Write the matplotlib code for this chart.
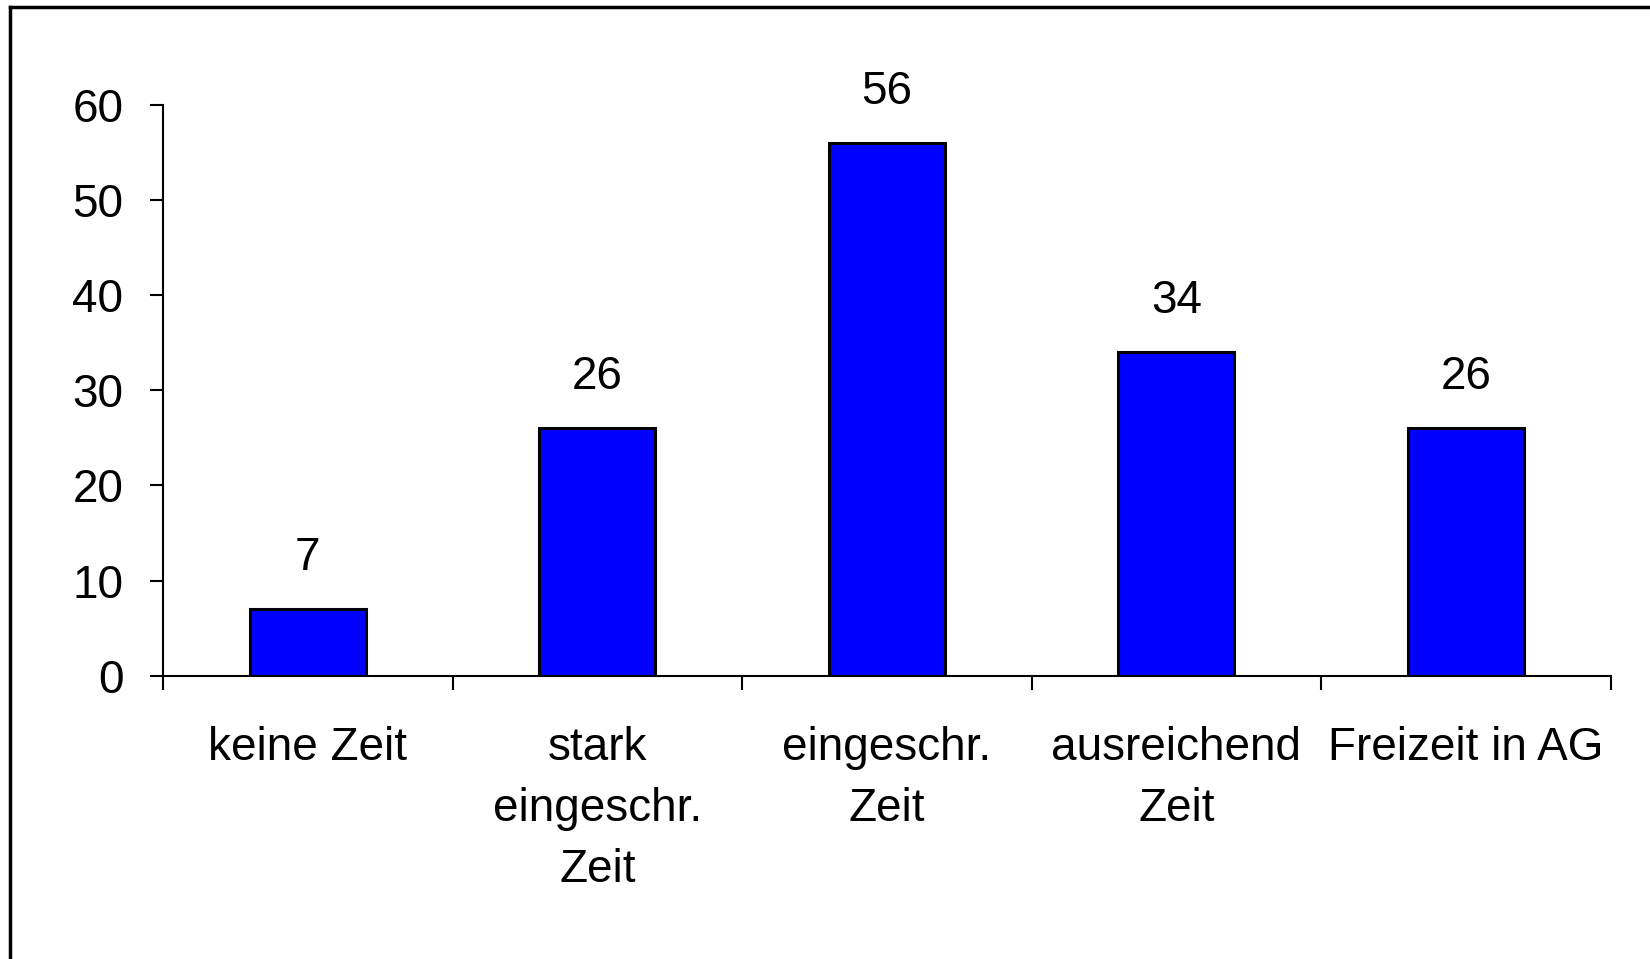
import matplotlib
matplotlib.use("Agg")
import matplotlib.pyplot as plt
from matplotlib.lines import Line2D

categories = ["keine Zeit", "stark\neingeschr.\nZeit", "eingeschr.\nZeit",
              "ausreichend\nZeit", "Freizeit in AG"]
values = [7, 26, 56, 34, 26]
yticks = [0, 10, 20, 30, 40, 50, 60]

plt.rcParams['font.family'] = ['Liberation Sans', 'DejaVu Sans']

fig = plt.figure(figsize=(16.5, 9.59), dpi=100)
ax = fig.add_axes([163/1650, 1 - 675.7/959, (1610.7 - 163)/1650, (675.7 - 105)/959])

x = range(len(values))
bars = ax.bar(x, values, width=0.4, color='#0000ff', edgecolor='black', linewidth=2.2)

for b, v in zip(bars, values):
    ax.annotate(str(v), (b.get_x() + b.get_width()/2, v), xytext=(0, 21),
                textcoords='offset points', ha='center', va='bottom', fontsize=33)

ax.set_xlim(-0.5, len(values) - 0.5)
ax.set_ylim(0, 60)
ax.set_yticks(yticks)
ax.set_yticklabels([str(t) for t in yticks], fontsize=33)
ax.tick_params(axis='y', length=9.5, width=1.5, pad=19)

# category separators as ticks, labels at the centers
ax.set_xticks([i - 0.5 for i in range(len(values) + 1)])
ax.set_xticklabels([])
ax.set_xticks(list(x), minor=True)
ax.set_xticklabels(categories, minor=True, fontsize=33, linespacing=1.5)
ax.tick_params(axis='x', which='major', length=10, width=1.5)
ax.tick_params(axis='x', which='minor', length=0, pad=36)

for s in ['top', 'right']:
    ax.spines[s].set_visible(False)
for s in ['left', 'bottom']:
    ax.spines[s].set_linewidth(1.5)

# outer frame (cut off at right and bottom)
fig.add_artist(Line2D([10/1650, 10/1650], [0, 1 - 7/959], color='black', lw=2.5,
                      transform=fig.transFigure))
fig.add_artist(Line2D([10/1650, 1], [1 - 7/959, 1 - 7/959], color='black', lw=2.5,
                      transform=fig.transFigure))

fig.savefig("out.png", dpi=100)
